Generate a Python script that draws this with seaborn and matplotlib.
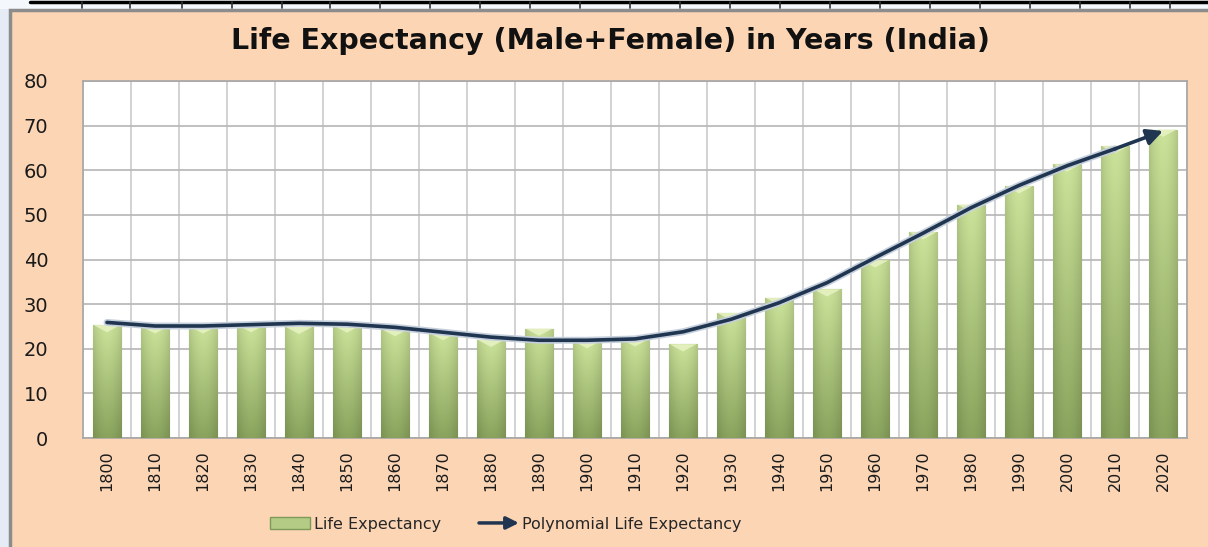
import matplotlib
matplotlib.use("Agg")
import matplotlib.pyplot as plt
import matplotlib.patheffects as pe
from matplotlib.patches import Rectangle, Polygon, FancyArrowPatch
from matplotlib.legend_handler import HandlerBase
from matplotlib.lines import Line2D
import seaborn as sns
import pandas as pd
import numpy as np

# ---- data ----
years = ['1800', '1810', '1820', '1830', '1840', '1850', '1860', '1870', '1880',
         '1890', '1900', '1910', '1920', '1930', '1940', '1950', '1960', '1970',
         '1980', '1990', '2000', '2010', '2020']
life_exp = [25.3, 25.0, 25.0, 25.3, 24.9, 25.2, 24.4, 23.5, 22.0,
            24.5, 21.7, 22.1, 21.0, 28.0, 31.4, 33.3, 39.8, 46.1,
            52.3, 56.4, 61.3, 65.4, 69.1]
# polynomial trend line, read at each decade
trend = [25.9, 25.1, 25.1, 25.4, 25.7, 25.5, 24.8, 23.7, 22.6,
         21.9, 21.9, 22.2, 23.8, 26.6, 30.3, 34.8, 40.4, 45.9,
         51.6, 56.6, 61.0, 64.8, 68.8]

title = "Life Expectancy (Male+Female) in Years (India)"
bar_label = "Life Expectancy"
trend_label = "Polynomial Life Expectancy"

df = pd.DataFrame({'Year': years, 'Life Expectancy': life_exp})

PEACH = '#FCD5B5'
NAVY = '#1F3550'

sns.set_theme(style="white")
plt.rcParams['font.family'] = ['DejaVu Sans']

fig = plt.figure(figsize=(12.08, 5.47), dpi=100)
fig.patch.set_facecolor('#E6ECF6')

# spreadsheet strip on top and chart frame
fig.add_artist(Rectangle((0, 1 - 9 / 547), 1, 9 / 547, transform=fig.transFigure,
                         facecolor='#F4F7FB', edgecolor='none', zorder=0))
fig.add_artist(Line2D([30 / 1208, 1], [1 - 2 / 547] * 2, transform=fig.transFigure,
                      color='black', lw=2.5))
for xs in [82, 130, 182, 232, 282, 330, 380, 430, 480, 530, 580, 630, 680,
           730, 780, 830, 880, 930, 980, 1030, 1080, 1130, 1170]:
    fig.add_artist(Line2D([xs / 1208] * 2, [1 - 2 / 547, 1 - 8 / 547],
                          transform=fig.transFigure, color='#333333', lw=1.2))
fig.add_artist(Rectangle((10 / 1208, -0.01), 1.0, 1 - 10 / 547 + 0.01,
                         transform=fig.transFigure, facecolor=PEACH,
                         edgecolor='#8C8C8C', lw=2.5, zorder=0))

ax = fig.add_axes([83 / 1208, 1 - 438 / 547, 1104 / 1208, 357 / 547])
ax.set_facecolor('white')

sns.barplot(data=df, x='Year', y='Life Expectancy', color='#A9C37E',
            width=0.59, edgecolor='#7F9A58', linewidth=0.8, ax=ax, zorder=3)

# gradient fill for the bars
rows, cols = 60, 40
t = np.linspace(0, 1, rows)[:, None, None]
u = np.linspace(0, 1, cols)[None, :, None]
top_c = np.array([0.78, 0.87, 0.59])
bot_c = np.array([0.53, 0.63, 0.36])
shade = 0.80 + 0.22 * np.sin(np.pi * (0.15 + 0.7 * u))
grad = np.clip((top_c * (1 - t) + bot_c * t) * shade, 0, 1)

for p in list(ax.patches):
    x0, w, h = p.get_x(), p.get_width(), p.get_height()
    im = ax.imshow(grad, extent=[x0, x0 + w, 0, h], origin='upper',
                   aspect='auto', zorder=3.5, interpolation='bilinear')
    im.set_clip_path(p)
    ax.add_patch(Polygon([[x0 + 0.03 * w, h], [x0 + 0.97 * w, h], [x0 + w / 2, h - 1.6]],
                         closed=True, facecolor='#E6F2C2', edgecolor='none',
                         alpha=0.9, zorder=3.6))

# trend line with arrow head
pos = np.arange(len(years))
glow = [pe.Stroke(linewidth=5, foreground='#C5CFDC'), pe.Normal()]
sns.lineplot(x=pos[:-1], y=trend[:-1], color=NAVY, lw=2.6, ax=ax, zorder=5,
             path_effects=glow)
ax.annotate('', xy=(pos[-1], trend[-1]), xytext=(pos[-2], trend[-2]),
            arrowprops=dict(arrowstyle='-|>', color=NAVY, lw=2.6,
                            mutation_scale=24, shrinkA=0, shrinkB=0),
            zorder=5)

ax.set_xlim(-0.5, len(years) - 0.5)
ax.set_ylim(0, 80)
ax.set_yticks(range(0, 81, 10))
ax.set_xticks(np.arange(-0.5, len(years), 0.5), minor=True)
ax.grid(False)
ax.grid(axis='y', which='major', color='#B5B5B5', lw=1.2, zorder=0)
ax.grid(axis='x', which='minor', color='#CBCBCB', lw=1.2, zorder=0)
ax.set_axisbelow(True)
for s in ax.spines.values():
    s.set_color('#A6A6A6')
    s.set_linewidth(1.2)
ax.tick_params(axis='both', which='both', length=0)
ax.tick_params(axis='y', labelsize=14, pad=25, colors='#1A1A1A')
ax.tick_params(axis='x', labelsize=11.5, pad=9, colors='#1A1A1A', labelrotation=90)
ax.set_xlabel('')
ax.set_ylabel('')

fig.text(0.505, 1 - 41 / 547, title, ha='center', va='center',
         fontsize=20.5, fontweight='bold', color='#111111')


class ArrowHandler(HandlerBase):
    def create_artists(self, legend, orig_handle, xdescent, ydescent,
                       width, height, fontsize, trans):
        arr = FancyArrowPatch((-xdescent, height / 2 - ydescent),
                              (width - xdescent, height / 2 - ydescent),
                              arrowstyle='-|>', mutation_scale=fontsize * 1.6,
                              lw=2.5, color=NAVY, transform=trans,
                              shrinkA=0, shrinkB=0)
        return [arr]


bar_handle = Rectangle((0, 0), 1, 1, facecolor='#B3CB85', edgecolor='#7F9A58')
arrow_handle = Line2D([], [], color=NAVY)
fig.legend([bar_handle, arrow_handle], [bar_label, trend_label],
           handler_map={arrow_handle: ArrowHandler()},
           loc='center', bbox_to_anchor=(506 / 1208, 1 - 524 / 547), ncol=2,
           frameon=False, fontsize=11.5, handlelength=2.5, handleheight=0.8,
           handletextpad=0.2, columnspacing=2.4)

fig.savefig('out.png', dpi=100, facecolor=fig.get_facecolor())
